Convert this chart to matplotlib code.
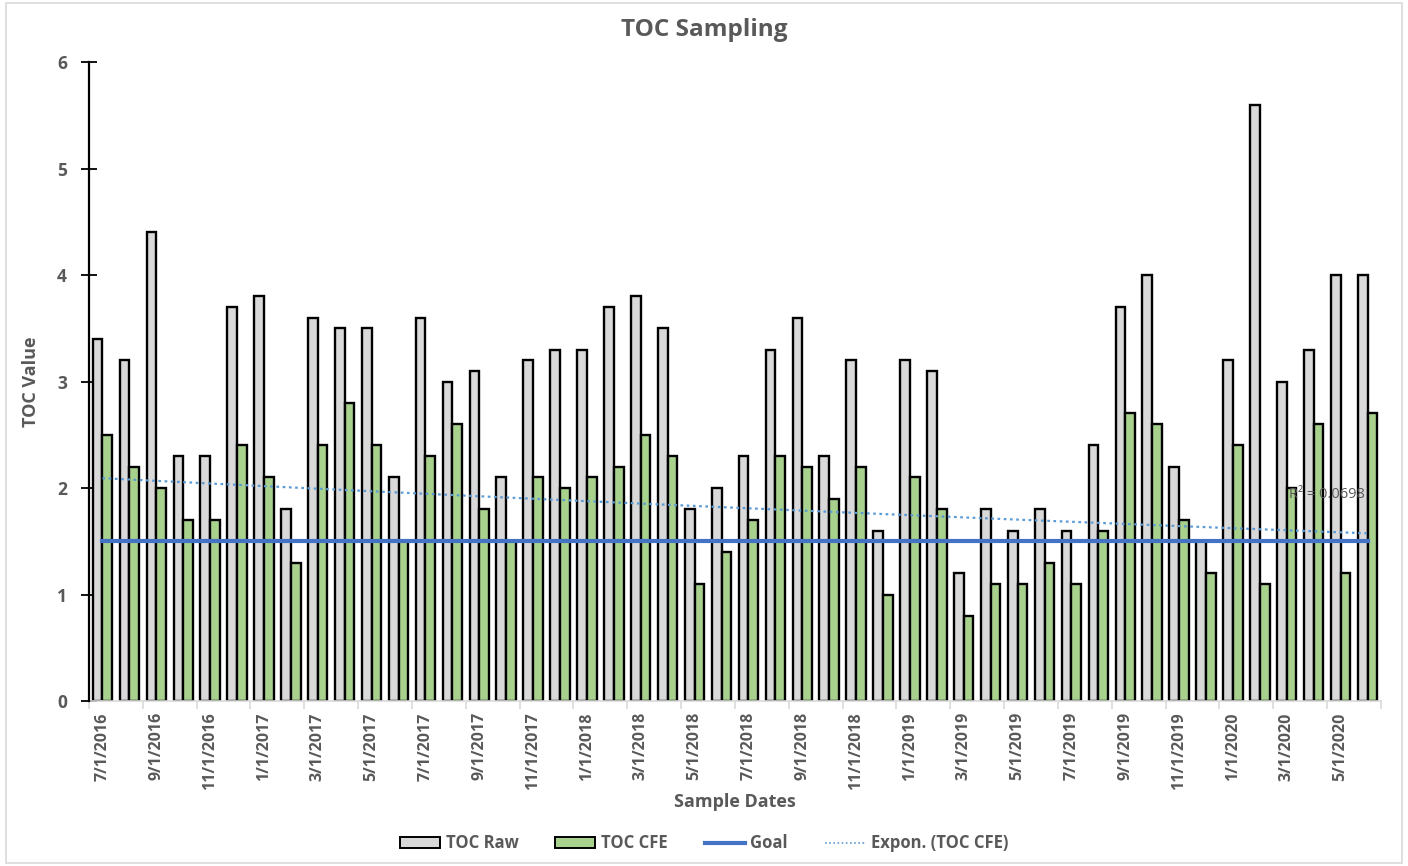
import numpy as np
import matplotlib.pyplot as plt
from matplotlib.patches import Patch, Rectangle
from matplotlib.lines import Line2D

# ---------------- DATA ----------------
months = ["7/1/2016", "8/1/2016", "9/1/2016", "10/1/2016", "11/1/2016", "12/1/2016",
          "1/1/2017", "2/1/2017", "3/1/2017", "4/1/2017", "5/1/2017", "6/1/2017",
          "7/1/2017", "8/1/2017", "9/1/2017", "10/1/2017", "11/1/2017", "12/1/2017",
          "1/1/2018", "2/1/2018", "3/1/2018", "4/1/2018", "5/1/2018", "6/1/2018",
          "7/1/2018", "8/1/2018", "9/1/2018", "10/1/2018", "11/1/2018", "12/1/2018",
          "1/1/2019", "2/1/2019", "3/1/2019", "4/1/2019", "5/1/2019", "6/1/2019",
          "7/1/2019", "8/1/2019", "9/1/2019", "10/1/2019", "11/1/2019", "12/1/2019",
          "1/1/2020", "2/1/2020", "3/1/2020", "4/1/2020", "5/1/2020", "6/1/2020"]

toc_raw = [3.4, 3.2, 4.4, 2.3, 2.3, 3.7, 3.8, 1.8, 3.6, 3.5, 3.5, 2.1,
           3.6, 3.0, 3.1, 2.1, 3.2, 3.3, 3.3, 3.7, 3.8, 3.5, 1.8, 2.0,
           2.3, 3.3, 3.6, 2.3, 3.2, 1.6, 3.2, 3.1, 1.2, 1.8, 1.6, 1.8,
           1.6, 2.4, 3.7, 4.0, 2.2, 1.5, 3.2, 5.6, 3.0, 3.3, 4.0, 4.0]

toc_cfe = [2.5, 2.2, 2.0, 1.7, 1.7, 2.4, 2.1, 1.3, 2.4, 2.8, 2.4, 1.5,
           2.3, 2.6, 1.8, 1.5, 2.1, 2.0, 2.1, 2.2, 2.5, 2.3, 1.1, 1.4,
           1.7, 2.3, 2.2, 1.9, 2.2, 1.0, 2.1, 1.8, 0.8, 1.1, 1.1, 1.3,
           1.1, 1.6, 2.7, 2.6, 1.7, 1.2, 2.4, 1.1, 2.0, 2.6, 1.2, 2.7]

goal = 1.5
r2_label = "R² = 0.0698"
# --------------------------------------

GRAY_TXT = "#595959"
plt.rcParams['font.family'] = ['Open Sans', 'DejaVu Sans']

n = len(months)
x = np.arange(n)

# exponential trendline (Excel style: ln(y) linear fit on 1..n)
b, ln_a = np.polyfit(x + 1, np.log(toc_cfe), 1)
trend = np.exp(ln_a) * np.exp(b * (x + 1))

fig = plt.figure(figsize=(14.08, 8.66), dpi=100)
ax = fig.add_axes([0.0632, 0.1905, 0.9176, 0.7379])

w = 0.36
ax.bar(x - w / 2, toc_raw, w, color="#D9D9D9", edgecolor="black", linewidth=1.7, zorder=2)
ax.bar(x + w / 2, toc_cfe, w, color="#A9D18E", edgecolor="black", linewidth=1.7, zorder=2)
ax.plot(x, [goal] * n, color="#4472C4", linewidth=3, zorder=3)
ax.plot(x, trend, color="#5B9BD5", linewidth=1.6, linestyle=(0, (1.2, 1.6)), zorder=4)
ax.text(44.1, 1.94, r2_label, color=GRAY_TXT, fontsize=10.5, va="center", ha="left", zorder=5)

ax.set_xlim(-0.5, n - 0.5)
ax.set_ylim(0, 6)

# y axis
ax.set_yticks(range(0, 7))
ax.tick_params(axis="y", direction="inout", length=12, width=1.3, color="black",
               labelsize=12.5, labelcolor=GRAY_TXT, pad=10)
for lab in ax.get_yticklabels():
    lab.set_fontweight("bold")

# x axis: labels every 2nd month, small ticks at group boundaries
ax.set_xticks(x[::2])
ax.set_xticklabels(months[::2], rotation=90, fontsize=11.5, color=GRAY_TXT, fontweight="bold")
ax.tick_params(axis="x", length=0, pad=8)
ax.set_xticks(np.arange(-0.5, n, 2), minor=True)
ax.tick_params(axis="x", which="minor", length=6, color="#D9D9D9", width=1.2, direction="out")

for s in ["top", "right"]:
    ax.spines[s].set_visible(False)
ax.spines["left"].set_color("black")
ax.spines["left"].set_linewidth(1.6)
ax.spines["left"].set_zorder(5)
ax.spines["bottom"].set_color("#D9D9D9")
ax.spines["bottom"].set_linewidth(1.2)

ax.set_ylabel("TOC Value", fontsize=13, color=GRAY_TXT, fontweight="bold", labelpad=12)
ax.set_xlabel("Sample Dates", fontsize=13, color=GRAY_TXT, fontweight="bold", labelpad=2)
fig.text(0.5, 0.965, "TOC Sampling", ha="center", va="center", fontsize=17.5,
         color=GRAY_TXT, fontweight="bold")

handles = [Patch(facecolor="#D9D9D9", edgecolor="black", linewidth=1.4),
           Patch(facecolor="#A9D18E", edgecolor="black", linewidth=1.4),
           Line2D([], [], color="#4472C4", linewidth=3),
           Line2D([], [], color="#5B9BD5", linewidth=1.2, linestyle=(0, (1, 1.5)))]
leg = fig.legend(handles, ["TOC Raw", "TOC CFE", "Goal", "Expon. (TOC CFE)"],
                 loc="center", bbox_to_anchor=(0.5, 0.026), ncol=4, frameon=False,
                 fontsize=12, handlelength=2.4, handleheight=0.6, columnspacing=2.2,
                 handletextpad=0.35)
for t in leg.get_texts():
    t.set_color(GRAY_TXT)
    t.set_fontweight("bold")

# chart-area border
fig.patches.append(Rectangle((0.004, 0.004), 0.992, 0.992, transform=fig.transFigure,
                             fill=False, edgecolor="#D9D9D9", linewidth=1.2))

fig.savefig("out.png", dpi=100)
